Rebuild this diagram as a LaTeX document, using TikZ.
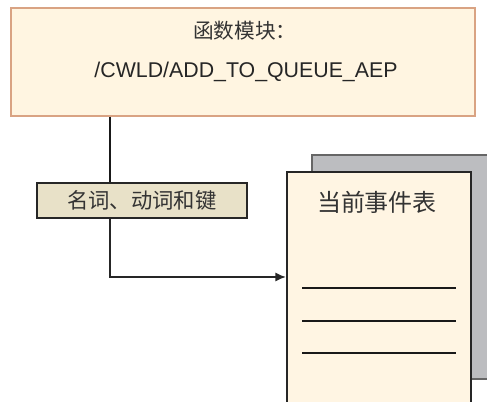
\documentclass[tikz,border=0pt]{standalone}
\usepackage{fontspec}
\setmainfont{Liberation Sans}
\newfontfamily\cjk{Noto Sans CJK SC}
\usetikzlibrary{arrows.meta, positioning, calc}

\definecolor{fbfill}{HTML}{FFF5E1}
\definecolor{fbdraw}{HTML}{D9A383}
\definecolor{kwfill}{HTML}{E8E1C8}
\definecolor{docfill}{HTML}{FFF5E3}
\definecolor{shadowgray}{HTML}{BCBDC0}
\definecolor{txt}{HTML}{333333}

\begin{document}
\begin{tikzpicture}[
    x=0.75pt, y=-0.75pt,
    fbox/.style={rectangle, draw=fbdraw, line width=1pt, fill=fbfill, minimum width=348pt, minimum height=81pt, inner sep=0pt},
    kwbox/.style={rectangle, draw=black!85, line width=1.6pt, fill=kwfill, minimum width=157.5pt, minimum height=26pt, inner sep=0pt, font=\cjk\fontsize{16}{19}\selectfont, text=txt},
    docbox/.style={rectangle, draw=black!85, line width=1.6pt, fill=docfill, minimum width=138pt, minimum height=200pt, inner sep=0pt},
    shadowbox/.style={rectangle, draw=black!60, line width=0.8pt, fill=shadowgray, minimum width=138pt, minimum height=168pt, inner sep=0pt},
    arrow/.style={-{Latex[length=8pt, width=7pt]}, line width=1.4pt, draw=black!85},
    rule/.style={line width=1.6pt, draw=black!90}
]
\useasboundingbox (0,0) rectangle (487,402);
\clip (0,0) rectangle (487,402);

% 1. Function module
\node[fbox] (fm) at (243,62) {};
\node[font=\cjk\fontsize{15.5}{18}\selectfont, text=txt] (fmtitle) at (245,31) {函数模块：};
\node[font=\fontsize{16}{19}\selectfont, text=black!85] (fmname) at (246,72) {/CWLD/ADD\_TO\_QUEUE\_AEP};

% 2. Event table (shadow, then sheet)
\node[shadowbox] (shadow) at (404,267) {};
\node[docbox] (doc) at (379,305) {};
\node[font=\cjk\fontsize{18}{21}\selectfont, text=txt] (doctitle) at (377,202) {当前事件表};
\foreach \y in {288,321,353}
  \draw[rule] (302,\y) -- (456,\y);

% 3. Keyword label on the connector
\node[kwbox] (kw) at (142,200.5) {名词、动词和键};

% 4. Connections
\coordinate (tap) at (110,116);
\coordinate (docin) at (287,277);
\draw[rule] (fm.south -| tap) -- (kw.north -| tap);
\draw[arrow] (kw.south -| tap) |- (doc.west |- docin);

\end{tikzpicture}
\end{document}
